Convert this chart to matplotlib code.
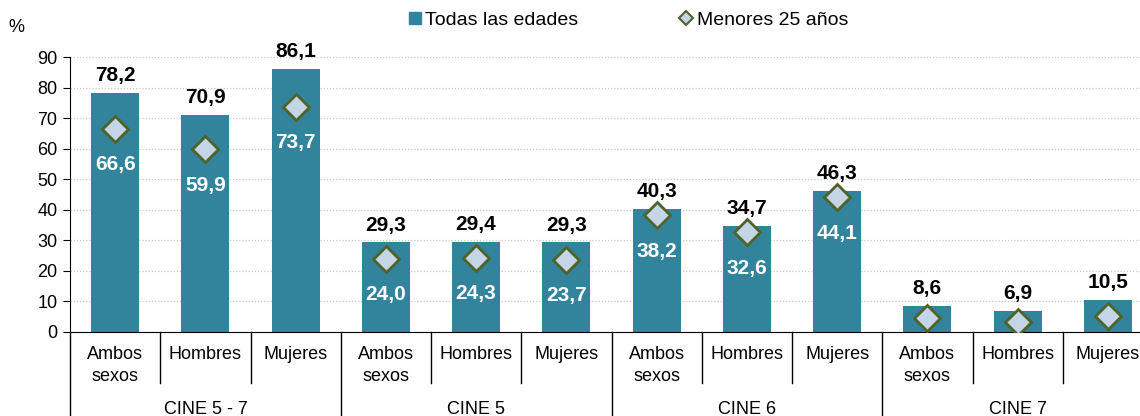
import matplotlib
matplotlib.use("Agg")
import matplotlib.pyplot as plt
from matplotlib.lines import Line2D
from matplotlib.transforms import blended_transform_factory

plt.rcParams["font.family"] = ["Liberation Sans", "DejaVu Sans"]

# Data
groups = ["CINE 5 - 7", "CINE 5", "CINE 6", "CINE 7"]
categories = ["Ambos\nsexos", "Hombres", "Mujeres"] * 4
todas = [78.2, 70.9, 86.1, 29.3, 29.4, 29.3, 40.3, 34.7, 46.3, 8.6, 6.9, 10.5]
menores = [66.6, 59.9, 73.7, 24.0, 24.3, 23.7, 38.2, 32.6, 44.1, 4.5, 3.4, 5.3]
show_menores_label = [True] * 9 + [False] * 3

bar_color = "#31849B"
dia_face = "#C5D5E8"
dia_edge = "#4F6228"

W, H = 1140, 416
fig = plt.figure(figsize=(W / 100, H / 100), dpi=100)
ax = fig.add_axes([70 / W, (H - 332) / H, (1153 - 70) / W, (332 - 57) / H])

x = list(range(len(todas)))
ax.bar(x, todas, width=0.53, color=bar_color, zorder=2)
ax.plot(x, menores, linestyle="none", marker="D", markersize=13,
        markerfacecolor=dia_face, markeredgecolor=dia_edge,
        markeredgewidth=2, zorder=3)

for xi, v in zip(x, todas):
    ax.annotate(f"{v:.1f}".replace(".", ","), (xi, v), xytext=(0, 12.5),
                textcoords="offset points", ha="center", va="center",
                fontsize=15, fontweight="bold", color="black",
                annotation_clip=False)

for xi, v, show in zip(x, menores, show_menores_label):
    if show:
        ax.annotate(f"{v:.1f}".replace(".", ","), (xi, v), xytext=(0, -26),
                    textcoords="offset points", ha="center", va="center",
                    fontsize=15, fontweight="bold", color="white", zorder=4)

ax.set_xlim(-0.5, len(todas) - 0.5)
ax.set_ylim(0, 90)
ax.set_yticks(range(0, 91, 10))
ax.tick_params(axis="y", labelsize=13, length=5, direction="out", pad=4)
ax.set_xticks([])
ax.grid(axis="y", color="#C8C8C8", linestyle=(0, (1, 1.5)), linewidth=0.9, zorder=0)
for side in ["top", "right"]:
    ax.spines[side].set_visible(False)
ax.spines["left"].set_color("black")
ax.spines["bottom"].set_color("black")

# Category axis with dividers
tr = blended_transform_factory(ax.transData, ax.transAxes)
for i in range(len(todas) + 1):
    xd = i - 0.5
    if i % 3 == 0:
        ax.plot([xd, xd], [0, -0.32], transform=tr, color="black", lw=1, clip_on=False)
    else:
        ax.plot([xd, xd], [0, -0.185], transform=tr, color="black", lw=1, clip_on=False)

for xi, cat in zip(x, categories):
    ax.text(xi, -(346 - 332) / 275, cat, transform=tr, ha="center", va="top",
            fontsize=13, linespacing=1.35)

for g, name in enumerate(groups):
    ax.text(g * 3 + 1, -(409 - 332) / 275, name, transform=tr, ha="center",
            va="center", fontsize=13)

fig.text(8 / W, 1 - 27 / H, "%", fontsize=13, ha="left", va="center")

handles = [
    Line2D([], [], linestyle="none", marker="s", markersize=8.5,
           markerfacecolor=bar_color, markeredgecolor=bar_color),
    Line2D([], [], linestyle="none", marker="D", markersize=7,
           markerfacecolor=dia_face, markeredgecolor=dia_edge, markeredgewidth=1.5),
]
fig.legend(handles, ["Todas las edades", "Menores 25 años"], loc="center",
           bbox_to_anchor=(628 / W, 1 - 20 / H), ncol=2, frameon=False,
           fontsize=14, handlelength=0.7, handletextpad=0.2, columnspacing=5.2)

fig.savefig("out.png", dpi=100)
